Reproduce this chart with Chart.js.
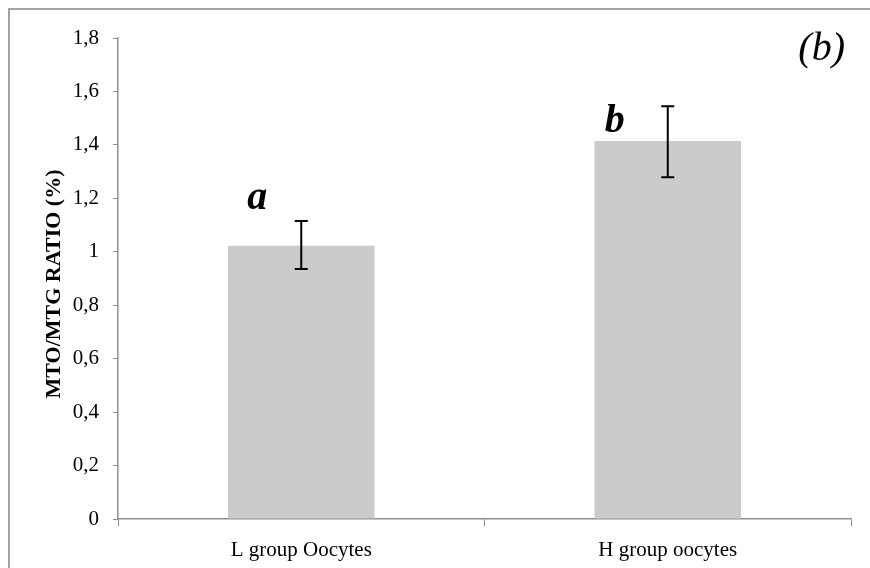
<!DOCTYPE html>
<html>
<head>
<meta charset="utf-8">
<script src="https://cdn.jsdelivr.net/npm/chart.js@4.4.0/dist/chart.umd.min.js"></script>
<style>
    html, body { margin: 0; padding: 0; background: #fff; }
    #wrap { width: 870px; height: 568px; position: relative; }
</style>
</head>
<body>
<div id="wrap"><canvas id="myChart"></canvas></div>
<script>
const groups = ["L group Oocytes", "H group oocytes"];
const ratioMeans = [1.023, 1.415];
const ratioLow = [0.936, 1.279];
const ratioHigh = [1.115, 1.545];
const sigLetters = ["a", "b"];
const yTickValues = [0, 0.2, 0.4, 0.6, 0.8, 1, 1.2, 1.4, 1.6, 1.8];
const yTickLabels = ["0", "0,2", "0,4", "0,6", "0,8", "1", "1,2", "1,4", "1,6", "1,8"];
const yTitle = "MTO/MTG RATIO (%)";
const panelLabel = "(b)";

const serif = "'Liberation Serif', 'DejaVu Serif', serif";

// frame, error bars, letters, axis title, panel label
const extras = {
    id: "extras",
    beforeDraw(chart) {
        const ctx = chart.ctx;
        ctx.save();
        ctx.strokeStyle = "#a3a3a3";
        ctx.lineWidth = 2;
        ctx.beginPath();
        ctx.moveTo(9, chart.height + 5);
        ctx.lineTo(9, 9);
        ctx.lineTo(chart.width + 5, 9);
        ctx.stroke();
        ctx.restore();
    },
    afterDatasetsDraw(chart) {
        const ctx = chart.ctx;
        const y = chart.scales.y;
        const meta = chart.getDatasetMeta(0);
        ctx.save();
        ctx.strokeStyle = "#000";
        ctx.lineWidth = 2;
        meta.data.forEach((bar, i) => {
            const x = bar.x;
            const top = y.getPixelForValue(ratioHigh[i]);
            const bot = y.getPixelForValue(ratioLow[i]);
            ctx.beginPath();
            ctx.moveTo(x, top);
            ctx.lineTo(x, bot);
            ctx.moveTo(x - 6.5, top);
            ctx.lineTo(x + 6.5, top);
            ctx.moveTo(x - 6.5, bot);
            ctx.lineTo(x + 6.5, bot);
            ctx.stroke();
        });

        // significance letters, offset from each bar top
        const letterOffsets = [[-44, -37], [-53, -9]];
        ctx.fillStyle = "#000";
        ctx.font = "italic bold 40px " + serif;
        ctx.textAlign = "center";
        ctx.textBaseline = "alphabetic";
        meta.data.forEach((bar, i) => {
            ctx.fillText(sigLetters[i], bar.x + letterOffsets[i][0], bar.y + letterOffsets[i][1]);
        });

        ctx.font = "italic 40px " + serif;
        ctx.textAlign = "right";
        ctx.fillText(panelLabel, 845, 60);

        // y axis title
        ctx.translate(54, 284);
        ctx.rotate(-Math.PI / 2);
        ctx.font = "bold 22px " + serif;
        ctx.textAlign = "center";
        ctx.textBaseline = "middle";
        ctx.fillText(yTitle, 0, 0);
        ctx.restore();
    },
};

const ctx = document.querySelector("#myChart");

new Chart(ctx, {
    type: "bar",
    data: {
        labels: groups,
        datasets: [
            {
                label: "MTO/MTG",
                data: ratioMeans,
                backgroundColor: "#cbcbcb",
                borderWidth: 0,
                categoryPercentage: 0.8,
                barPercentage: 0.5,
            },
        ],
    },
    options: {
        responsive: true,
        maintainAspectRatio: false,
        animation: false,
        layout: {
            padding: { top: 38, right: 19, bottom: 0, left: 0 },
        },
        plugins: {
            legend: { display: false },
            tooltip: { enabled: false },
        },
        scales: {
            x: {
                offset: true,
                grid: {
                    offset: true,
                    drawOnChartArea: false,
                    tickLength: 7,
                    color: "#8e8e8e",
                },
                border: { color: "#8e8e8e", width: 1.5 },
                ticks: {
                    color: "#000",
                    padding: 12,
                    font: { family: serif, size: 21 },
                    maxRotation: 0,
                },
                afterFit(scale) {
                    scale.height = 49;
                },
            },
            y: {
                min: 0,
                max: 1.8,
                afterBuildTicks(scale) {
                    scale.ticks = yTickValues.map((v) => ({ value: v }));
                },
                grid: {
                    drawOnChartArea: false,
                    tickLength: 5,
                    color: "#8e8e8e",
                },
                border: { color: "#8e8e8e", width: 1.5 },
                ticks: {
                    color: "#000",
                    padding: 14,
                    font: { family: serif, size: 21 },
                    callback: (v, i) => yTickLabels[i],
                },
                afterFit(scale) {
                    scale.width = 118;
                },
            },
        },
    },
    plugins: [extras],
});
</script>
</body>
</html>
